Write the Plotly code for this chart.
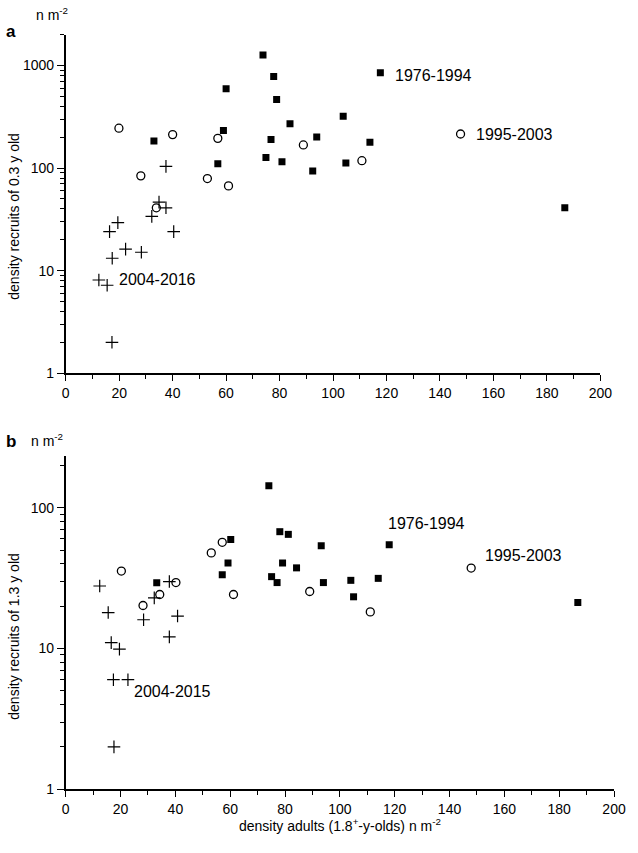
import plotly.graph_objects as go

# ---------------- data: panel a (recruits 0.3 y old) ----------------
sq_a_x = [33.0, 56.9, 59.0, 60.0, 73.8, 74.9, 76.8, 77.8, 78.9, 80.9, 83.9, 92.4, 93.9, 103.8, 104.8, 113.8, 117.7, 186.7]
sq_a_y = [184, 110, 232, 594, 1270, 127, 190, 783, 466, 115, 271, 93.5, 201, 321, 112, 179, 850, 41]

ci_a_x = [19.9, 28.1, 33.9, 40.0, 53.0, 56.9, 60.9, 88.9, 110.8, 147.7]
ci_a_y = [245, 84, 41, 212, 79, 195, 67, 168, 118, 215]

pl_a_x = [12.4, 15.5, 16.4, 17.3, 17.4, 19.5, 22.4, 28.3, 32.2, 34.9, 37.5, 37.5, 40.4]
pl_a_y = [8.1, 7.2, 24, 2.0, 13.2, 29.4, 16.2, 15.1, 33.8, 46.6, 104, 41, 24]

# ---------------- data: panel b (recruits 1.3 y old) ----------------
sq_b_x = [33.2, 57.1, 59.2, 60.2, 74.1, 75.1, 77.1, 78.1, 79.1, 81.2, 84.2, 93.2, 94.0, 104.0, 105.0, 114.0, 118.0, 186.8]
sq_b_y = [29.3, 33.4, 40.5, 59.6, 143.5, 32.4, 29.4, 67.6, 40.5, 64.7, 37.4, 53.7, 29.4, 30.5, 23.3, 31.5, 54.6, 21.2]

ci_b_x = [20.3, 28.2, 34.3, 40.2, 53.1, 57.1, 61.2, 89.0, 111.1, 147.9]
ci_b_y = [35.5, 20.2, 24.2, 29.4, 47.8, 56.8, 24.2, 25.4, 18.2, 37.3]

pl_b_x = [12.4, 15.5, 16.6, 17.4, 17.6, 19.6, 22.7, 28.4, 32.3, 37.8, 37.8, 40.8]
pl_b_y = [27.8, 18.0, 11.0, 6.0, 2.0, 9.9, 6.0, 16.0, 22.9, 29.9, 12.1, 17.0]

period_labels_a = ["1976-1994", "1995-2003", "2004-2016"]
period_labels_b = ["1976-1994", "1995-2003", "2004-2015"]

x_ticks = list(range(0, 201, 20))
x_minor = list(range(10, 200, 20))
y_major = [1, 10, 100, 1000]
y_minor = [m * d for d in [1, 10, 100, 1000] for m in range(2, 10) if m * d <= 2000]

FONT = "Liberation Sans, Arial, Helvetica, sans-serif"
W, H = 638, 853


def px(x):
    return x / W


def py(y):
    return 1 - y / H


fig = go.Figure()


def add_series(sqx, sqy, cix, ciy, plx, ply, xa, ya):
    fig.add_trace(go.Scatter(x=sqx, y=sqy, mode="markers", xaxis=xa, yaxis=ya,
                             marker=dict(symbol="square", size=7, color="black",
                                         line=dict(width=0)), showlegend=False))
    fig.add_trace(go.Scatter(x=cix, y=ciy, mode="markers", xaxis=xa, yaxis=ya,
                             marker=dict(symbol="circle-open", size=8, color="black",
                                         line=dict(width=1.3, color="black")), showlegend=False))
    fig.add_trace(go.Scatter(x=plx, y=ply, mode="markers", xaxis=xa, yaxis=ya,
                             marker=dict(symbol="cross-thin-open", size=9, color="black",
                                         line=dict(width=1.2, color="black")), showlegend=False))


add_series(sq_a_x, sq_a_y, ci_a_x, ci_a_y, pl_a_x, pl_a_y, "x", "y")
add_series(sq_b_x, sq_b_y, ci_b_x, ci_b_y, pl_b_x, pl_b_y, "x2", "y2")

xaxis_common = dict(range=[0, 200], tickvals=x_ticks, ticktext=[str(v) for v in x_ticks],
                    ticks="outside", ticklen=6, tickwidth=1.3, tickcolor="black",
                    showline=True, linewidth=1.5, linecolor="black", mirror=False,
                    showgrid=False, zeroline=False,
                    tickfont=dict(family=FONT, size=14, color="black"),
                    minor=dict(tickvals=x_minor, ticks="outside", ticklen=4,
                               tickwidth=1.3, tickcolor="black", showgrid=False))

yaxis_common = dict(type="log", tickvals=y_major, ticktext=[str(v) for v in y_major],
                    ticks="outside", ticklen=7, tickwidth=1.3, tickcolor="black",
                    showline=True, linewidth=1.5, linecolor="black", mirror=False,
                    showgrid=False, zeroline=False,
                    tickfont=dict(family=FONT, size=14, color="black"),
                    minor=dict(tickvals=y_minor, ticks="outside", ticklen=4,
                               tickwidth=1.0, tickcolor="black", showgrid=False))

fig.update_layout(
    width=W, height=H, autosize=False,
    margin=dict(l=0, r=0, t=0, b=0),
    paper_bgcolor="white", plot_bgcolor="white",
    font=dict(family=FONT, size=14, color="black"),
    xaxis=dict(domain=[px(63.3), px(611.7)], anchor="y", **xaxis_common),
    yaxis=dict(domain=[py(376.7), py(35)], anchor="x", range=[0, 3.301], **yaxis_common),
    xaxis2=dict(domain=[px(63.3), px(625.7)], anchor="y2", **xaxis_common),
    yaxis2=dict(domain=[py(796.7), py(460)], anchor="x2", range=[0, 2.37], **yaxis_common),
)

ann = []
for txt, (x, ly) in zip(period_labels_a, [(122.5, 2.903), (152.6, 2.332), (19.2, 0.909)]):
    ann.append(dict(x=x, y=ly, xref="x", yref="y", text=txt, showarrow=False,
                    xanchor="left", yanchor="middle", font=dict(size=16, family=FONT)))
for txt, (x, ly) in zip(period_labels_b, [(117.0, 1.887), (152.1, 1.662), (24.0, 0.692)]):
    ann.append(dict(x=x, y=ly, xref="x2", yref="y2", text=txt, showarrow=False,
                    xanchor="left", yanchor="middle", font=dict(size=16, family=FONT)))

ann += [
    dict(x=px(0), y=py(32), xref="paper", yref="paper", text="<b>a</b>", showarrow=False,
         xanchor="left", yanchor="middle", font=dict(size=17, family=FONT)),
    dict(x=px(31), y=py(14), xref="paper", yref="paper", text="n m<sup>-2</sup>", showarrow=False,
         xanchor="left", yanchor="middle", font=dict(size=14, family=FONT)),
    dict(x=px(0), y=py(446), xref="paper", yref="paper", text="<b>b</b>", showarrow=False,
         xanchor="left", yanchor="middle", font=dict(size=17, family=FONT)),
    dict(x=px(26), y=py(444), xref="paper", yref="paper", text="n m<sup>-2</sup>", showarrow=False,
         xanchor="left", yanchor="middle", font=dict(size=14, family=FONT)),
    dict(x=px(10), y=py(218), xref="paper", yref="paper", text="density recruits of 0.3 y old",
         showarrow=False, textangle=-90, xanchor="center", yanchor="middle",
         font=dict(size=14, family=FONT)),
    dict(x=px(10), y=py(642), xref="paper", yref="paper", text="density recruits of 1.3 y old",
         showarrow=False, textangle=-90, xanchor="center", yanchor="middle",
         font=dict(size=14, family=FONT)),
    dict(x=px(344.5), y=py(833), xref="paper", yref="paper",
         text="density adults (1.8<sup>+</sup>-y-olds) n m<sup>-2</sup>",
         showarrow=False, xanchor="center", yanchor="middle", font=dict(size=14, family=FONT)),
]
fig.update_layout(annotations=ann)

fig.write_html("out.html", config={"responsive": False, "displayModeBar": False},
               post_script="document.body.style.margin='0';document.body.style.overflow='hidden';")
